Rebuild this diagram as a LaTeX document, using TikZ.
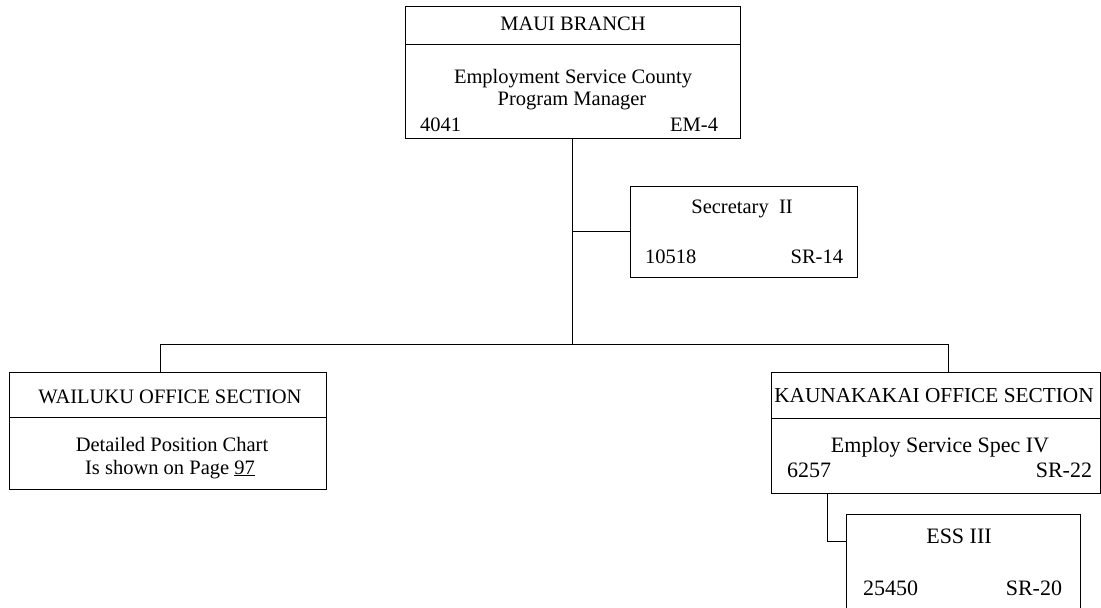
\documentclass[tikz,border=0pt]{standalone}
\usepackage{fontspec}
\setmainfont{Liberation Serif}
\begin{document}
\begin{tikzpicture}[x=1pt,y=-1pt,
  box/.style={draw=black, line width=1pt, inner sep=0pt, outer sep=0pt, anchor=north west},
  rule/.style={draw=black, line width=0.9pt},
  conn/.style={draw=black, line width=0.9pt},
  txt/.style={inner sep=0pt, outer sep=0pt, font=\fontsize{20.5pt}{24pt}\selectfont},
  txtb/.style={inner sep=0pt, outer sep=0pt, font=\fontsize{22pt}{26pt}\selectfont}]
\useasboundingbox (0,0) rectangle (1101,608);
\clip (0,0) rectangle (1101,608);
\fill[white] (0,0) rectangle (1101,608);

% boxes
\node[box, minimum width=335pt, minimum height=132pt] (maui) at (405,6) {};
\node[box, minimum width=227pt, minimum height=91pt] (sec) at (630,186) {};
\node[box, minimum width=317pt, minimum height=117pt] (wai) at (9,372) {};
\node[box, minimum width=329pt, minimum height=121pt] (kau) at (771,372) {};
\node[box, minimum width=234pt, minimum height=110pt] (ess) at (846,514) {};

% dividers
\draw[rule] (405,44) -- (740,44);
\draw[rule] (9,417) -- (326,417);
\draw[rule] (771,418) -- (1100,418);

% connectors
\coordinate (secjoin) at (maui.south |- sec.west);
\coordinate (waitop) at (160,372);
\coordinate (busl) at (160,344);
\coordinate (busm) at (maui.south |- 0,344);
\coordinate (busr) at (948,344);
\coordinate (kauend) at (948,372);
\coordinate (kaudrop) at (827,493);
\coordinate (kaucorner) at (827,541);
\coordinate (essjoin) at (ess.west |- kaucorner);
\draw[conn] (maui.south) -- (busm);
\draw[conn] (secjoin) -- (sec.west);
\draw[conn] (waitop) -- (busl) -- (busr) -- (kauend);
\draw[conn] (kaudrop) -- (kaucorner) -- (essjoin);

% MAUI texts
\node[txt, anchor=base] (t1) at (573,30) {MAUI BRANCH};
\node[txt, anchor=base] (t2) at (573,83) {Employment Service County};
\node[txt, anchor=base] (t3) at (572,105) {Program Manager};
\node[txt, anchor=base west] (t4) at (420,131) {4041};
\node[txt, anchor=base east] (t5) at (718,131) {EM-4};

% Secretary texts
\node[txt, anchor=base] (s1) at (742,213) {Secretary\ \ II};
\node[txt, anchor=base west] (s2) at (645,263) {10518};
\node[txt, anchor=base east] (s3) at (843,263) {SR-14};

% Wailuku texts
\node[txt, anchor=base] (w1) at (170,403) {WAILUKU OFFICE SECTION};
\node[txt, anchor=base] (w2) at (172,451) {Detailed Position Chart};
\node[txt, anchor=base] (w3) at (170,474) {Is shown on Page \underline{97}};

% Kaunakakai texts
\node[inner sep=0pt, font=\fontsize{21.3pt}{25pt}\selectfont, anchor=base] (k1) at (934,402) {KAUNAKAKAI OFFICE SECTION};
\node[txtb, anchor=base] (k2) at (940,452) {Employ Service Spec IV};
\node[txtb, anchor=base west] (k3) at (787,477) {6257};
\node[txtb, anchor=base east] (k4) at (1092,477) {SR-22};

% ESS texts
\node[txtb, anchor=base] (e1) at (959,543) {ESS III};
\node[txtb, anchor=base west] (e2) at (863,595) {25450};
\node[txtb, anchor=base east] (e3) at (1062,595) {SR-20};
\end{tikzpicture}
\end{document}
